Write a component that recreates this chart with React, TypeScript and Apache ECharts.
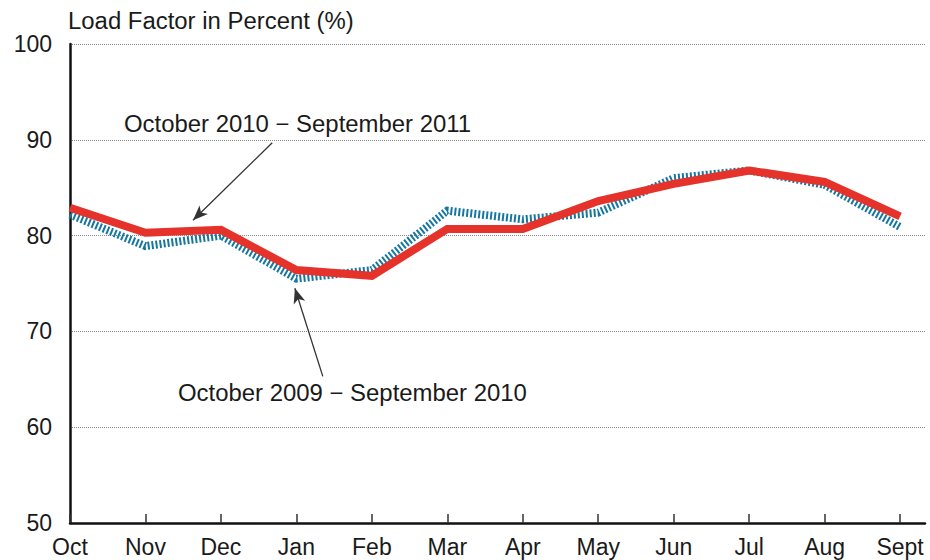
import React, { useEffect, useRef } from "react";
import * as echarts from "echarts";

const months = ["Oct", "Nov", "Dec", "Jan", "Feb", "Mar", "Apr", "May", "Jun", "Jul", "Aug", "Sept"];
const yTicks = [50, 60, 70, 80, 90, 100];
const series2010_2011 = [82.9, 80.3, 80.6, 76.4, 75.8, 80.7, 80.7, 83.6, 85.4, 86.8, 85.6, 82.0];
const series2009_2010 = [82.2, 78.9, 80.0, 75.5, 76.4, 82.6, 81.7, 82.4, 86.0, 86.8, 85.3, 80.9];
const label2010 = "October 2010 \u2212 September 2011";
const label2009 = "October 2009 \u2212 September 2010";
const title = "Load Factor in Percent (%)";
// arrow endpoints in data coordinates [monthIndex, percent]
const arrow2010 = [[2.68, 89.7], [1.63, 81.6]];
const arrow2009 = [[3.35, 65.3], [2.98, 74.5]];

const FONT = "'Liberation Sans', Arial, sans-serif";

export default function App() {
  const ref = useRef<HTMLDivElement>(null);
  useEffect(() => {
    const chart = echarts.init(ref.current!, null, { renderer: "svg" });
    const idx = months.map((_, i) => i);
    const arrowLine = (pts: number[][]) => ({
      silent: true,
      symbol: ["none", "arrow"],
      symbolSize: [9, 15],
      label: { show: false },
      lineStyle: { color: "#333", width: 1.3, type: "solid" },
      data: [[{ coord: pts[0] }, { coord: pts[1] }]],
    });
    chart.setOption({
      animation: false,
      backgroundColor: "#ffffff",
      grid: { left: 70, right: 5, top: 44, bottom: 37, containLabel: false },
      xAxis: {
        type: "value",
        min: 0,
        max: 11.33,
        splitLine: { show: false },
        axisLine: { show: true, lineStyle: { color: "#111", width: 2.5 } },
        axisTick: {
          show: true,
          inside: true,
          length: 9,
          customValues: idx,
          lineStyle: { color: "#333", width: 1.5 },
        },
        axisLabel: {
          customValues: idx,
          formatter: (v: number) => months[Math.round(v)] ?? "",
          color: "#1a1a1a",
          fontSize: 23,
          fontFamily: FONT,
          margin: 12,
        },
      },
      yAxis: {
        type: "value",
        min: 50,
        max: 100,
        interval: 10,
        axisLine: { show: true, lineStyle: { color: "#111", width: 2.5 } },
        axisTick: { show: false },
        splitLine: { show: true, lineStyle: { color: "#8a8a8a", width: 1, type: [1, 1] } },
        axisLabel: {
          color: "#1a1a1a",
          fontSize: 23,
          fontFamily: FONT,
          margin: 18,
          formatter: (v: number) => (yTicks.includes(v) ? String(v) : ""),
        },
      },
      graphic: [
        { type: "text", x: 68, y: 10, scaleX: 1.04, style: { text: title, fontSize: 23, fontFamily: FONT, fill: "#1a1a1a", verticalAlign: "top" } },
        { type: "text", x: 124, y: 113, scaleX: 1.04, style: { text: label2010, fontSize: 23, fontFamily: FONT, fill: "#1a1a1a", verticalAlign: "top" } },
        { type: "text", x: 178, y: 382, scaleX: 1.04, style: { text: label2009, fontSize: 23, fontFamily: FONT, fill: "#1a1a1a", verticalAlign: "top" } },
      ],
      series: [
        {
          name: label2009,
          type: "line",
          data: series2009_2010.map((v, i) => [i, v]),
          symbol: "none",
          lineStyle: { color: "#15779f", width: 8, type: [2, 2], cap: "butt", join: "miter" },
          z: 2,
          markLine: arrowLine(arrow2009),
        },
        {
          name: label2010,
          type: "line",
          data: series2010_2011.map((v, i) => [i, v]),
          symbol: "none",
          lineStyle: { color: "#e5322a", width: 8, join: "miter" },
          z: 3,
          markLine: arrowLine(arrow2010),
        },
      ],
    });
    return () => chart.dispose();
  }, []);
  return <div ref={ref} style={{ width: 930, height: 560, position: "absolute", left: 0, top: 0 }} />;
}
